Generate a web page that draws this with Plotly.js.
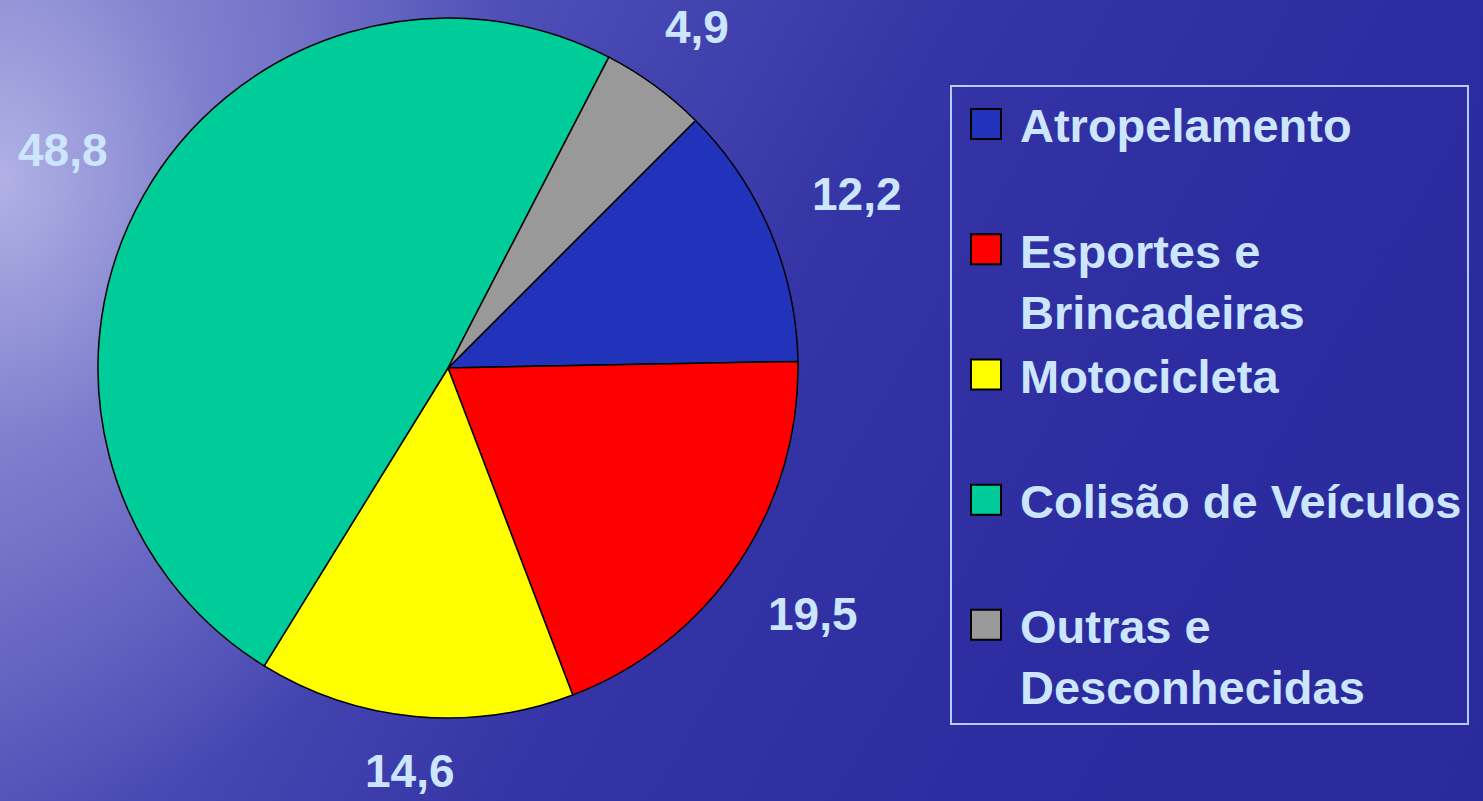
<!DOCTYPE html>
<html>
<head>
<meta charset="utf-8">
<script src="https://cdn.plot.ly/plotly-3.0.1.min.js"></script>
<style>
html, body { margin: 0; padding: 0; width: 1483px; height: 801px; overflow: hidden; }
body {
  background:
    radial-gradient(ellipse 520px 640px at 0px 180px, rgba(195,195,238,0.8) 0%, rgba(160,160,222,0.5) 40%, rgba(130,130,210,0) 100%),
    linear-gradient(120deg, #7070c6 0%, #5050b8 25%, #3434a6 50%, #2c2ca0 75%, #2a2a9c 100%);
}
#chart { width: 1483px; height: 801px; }
</style>
</head>
<body>
<div id="chart"></div>
<script>
// ---- data ----
const categories = ['Atropelamento', 'Esportes e Brincadeiras', 'Motocicleta', 'Colisão de Veículos', 'Outras e Desconhecidas'];
const legendLabels = ['Atropelamento<br> ', 'Esportes e<br>Brincadeiras', 'Motocicleta<br> ', 'Colisão de Veículos<br> ', 'Outras e<br>Desconhecidas'];
const values = [12.2, 19.5, 14.6, 48.8, 4.9];
const valueLabels = ['12,2', '19,5', '14,6', '48,8', '4,9'];
const sliceColors = ['#2233bb', '#ff0000', '#ffff00', '#00cc99', '#999999'];

// ---- layout constants ----
const W = 1483, H = 801;
const textColor = '#cce6ff';
const fontFam = 'Arial, "Liberation Sans", sans-serif';
const rotation = 45;
const domain = { x: [98 / W, 798 / W], y: [1 - 718 / H, 1 - 18 / H] };

const cx = (domain.x[0] + domain.x[1]) / 2 * W;
const cy = (1 - (domain.y[0] + domain.y[1]) / 2) * H;
const R = Math.min((domain.x[1] - domain.x[0]) * W, (domain.y[1] - domain.y[0]) * H) / 2;

const total = values.reduce((a, b) => a + b, 0);
const annotations = [];
let cum = 0;
values.forEach((v, i) => {
  const mid = rotation + (cum + v / 2) / total * 360;
  cum += v;
  const t = mid * Math.PI / 180;
  const s = Math.sin(t), c = Math.cos(t);
  const hw = valueLabels[i].length * 13, hh = 6;
  const d = R + 44 + hw * Math.abs(s) + hh * Math.abs(c);
  const px = cx + d * s, py = cy - d * c;
  annotations.push({
    x: px / W, y: 1 - py / H, xref: 'paper', yref: 'paper',
    text: '<b>' + valueLabels[i] + '</b>', showarrow: false,
    xanchor: 'center', yanchor: 'middle',
    font: { family: fontFam, size: 46, color: textColor }
  });
});

const data = [{
  type: 'pie',
  labels: legendLabels,
  values: values,
  text: categories,
  sort: false,
  direction: 'clockwise',
  rotation: rotation,
  textinfo: 'none',
  hoverinfo: 'text+value',
  marker: { colors: sliceColors, line: { color: '#000000', width: 1.5 } },
  domain: domain
}];

const layout = {
  width: W, height: H,
  margin: { l: 0, r: 0, t: 0, b: 0 },
  paper_bgcolor: 'rgba(0,0,0,0)',
  plot_bgcolor: 'rgba(0,0,0,0)',
  showlegend: true,
  legend: {
    x: 950 / W, y: 1 - 85 / H, xanchor: 'left', yanchor: 'top',
    bgcolor: 'rgba(0,0,0,0)', bordercolor: '#b4cdf5', borderwidth: 2,
    font: { family: fontFam, size: 47, color: textColor, weight: 'bold' },
    valign: 'top', itemwidth: 58
  },
  annotations: annotations
};

Plotly.newPlot('chart', data, layout, { staticPlot: true, displayModeBar: false }).then(gd => {
  gd.querySelectorAll('path.legendpie').forEach(p => {
    p.setAttribute('d', 'M15,15H-15V-15H15Z');
    p.style.strokeWidth = '2px';
    p.style.stroke = '#000000';
  });
});
</script>
</body>
</html>
